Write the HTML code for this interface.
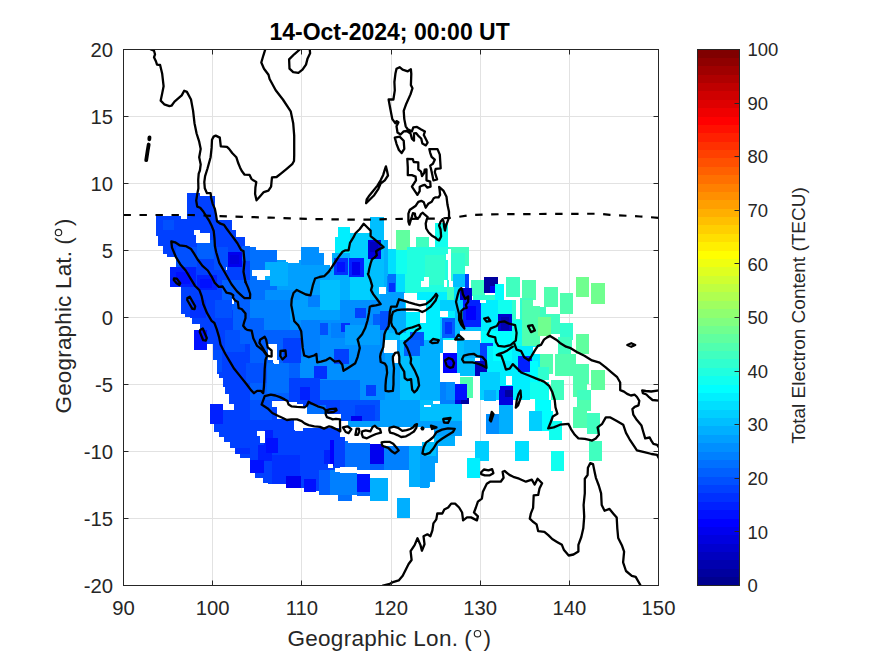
<!DOCTYPE html>
<html><head><meta charset="utf-8"><style>
html,body{margin:0;padding:0;background:#fff;}
svg{display:block;}
text{font-family:"Liberation Sans",sans-serif;fill:#262626;}
.tk{font-size:20.3px;}
.ct{font-size:18.5px;}
.ttl{font-size:23px;font-weight:bold;fill:#000;}
.lab{font-size:22.5px;}
.clab{font-size:19px;}
</style></head><body>
<svg width="875" height="656" viewBox="0 0 875 656" shape-rendering="auto">
<rect width="875" height="656" fill="#fff"/>
<path d="M212.5 49.5V585.5M301.5 49.5V585.5M391.5 49.5V585.5M480.5 49.5V585.5M569.5 49.5V585.5M123.5 518.5H658.5M123.5 451.5H658.5M123.5 384.5H658.5M123.5 317.5H658.5M123.5 250.5H658.5M123.5 183.5H658.5M123.5 116.5H658.5" stroke="#e2e2e2" stroke-width="1" fill="none"/><g shape-rendering="crispEdges"><rect x="187.3" y="192.9" width="13.0" height="26.1" fill="#0040ff"/><rect x="200.3" y="196.4" width="14.2" height="22.6" fill="#0040ff"/><rect x="156.1" y="216.3" width="24.4" height="19.8" fill="#0040ff"/><rect x="180.5" y="219.3" width="36.6" height="16.8" fill="#0040ff"/><rect x="187.3" y="215.5" width="29.8" height="4.5" fill="#0040ff"/><rect x="217.1" y="219.8" width="15.2" height="17.0" fill="#0040ff"/><rect x="232.3" y="229.9" width="3.9" height="6.9" fill="#0040ff"/><rect x="158.4" y="236.1" width="77.8" height="10.3" fill="#0040ff"/><rect x="236.2" y="236.7" width="8.9" height="9.7" fill="#0040ff"/><rect x="162.5" y="246.4" width="87.5" height="7.3" fill="#0040ff"/><rect x="166.7" y="253.7" width="83.3" height="3.1" fill="#0040ff"/><rect x="176.6" y="256.8" width="73.4" height="9.9" fill="#0040ff"/><rect x="169.7" y="266.7" width="80.3" height="20.2" fill="#0040ff"/><rect x="180.6" y="286.9" width="69.4" height="26.6" fill="#0040ff"/><rect x="185.2" y="313.5" width="64.8" height="3.1" fill="#0040ff"/><rect x="192.0" y="316.6" width="58.0" height="7.6" fill="#0040ff"/><rect x="200.4" y="324.2" width="49.6" height="6.1" fill="#0040ff"/><rect x="207.3" y="330.3" width="42.7" height="13.7" fill="#0040ff"/><rect x="212.6" y="344.0" width="37.4" height="16.0" fill="#0040ff"/><rect x="216.8" y="360.0" width="33.2" height="13.7" fill="#0040ff"/><rect x="219.1" y="373.7" width="30.9" height="3.8" fill="#0040ff"/><rect x="222.9" y="377.5" width="27.1" height="9.9" fill="#0040ff"/><rect x="225.2" y="387.4" width="24.8" height="6.9" fill="#0040ff"/><rect x="229.0" y="394.3" width="21.0" height="9.9" fill="#0040ff"/><rect x="233.5" y="404.2" width="16.5" height="6.1" fill="#0040ff"/><rect x="222.9" y="410.3" width="27.1" height="13.7" fill="#0040ff"/><rect x="213.7" y="424.0" width="36.3" height="7.6" fill="#0040ff"/><rect x="219.1" y="431.6" width="30.9" height="5.4" fill="#0040ff"/><rect x="224.4" y="437.0" width="25.6" height="5.3" fill="#0040ff"/><rect x="229.7" y="442.3" width="20.3" height="5.4" fill="#0040ff"/><rect x="235.1" y="447.7" width="14.9" height="6.1" fill="#0040ff"/><rect x="239.6" y="453.8" width="10.4" height="3.8" fill="#0040ff"/><rect x="176.0" y="247.0" width="20.6" height="20.0" fill="#0050ff"/><rect x="196.6" y="240.0" width="17.0" height="19.0" fill="#0060ff"/><rect x="213.6" y="247.0" width="14.4" height="23.0" fill="#0050ff"/><rect x="196.6" y="275.0" width="20.4" height="15.0" fill="#0020ff"/><rect x="200.0" y="279.0" width="12.0" height="9.0" fill="#0010ff"/><rect x="194.3" y="330.3" width="13.0" height="19.8" fill="#0010ff"/><rect x="209.9" y="404.2" width="13.0" height="19.8" fill="#0020ff"/><rect x="227.7" y="252.0" width="13.8" height="15.3" fill="#0000ef"/><rect x="230.0" y="255.0" width="9.0" height="9.0" fill="#0000df"/><rect x="169.7" y="266.7" width="26.0" height="20.2" fill="#0020ff"/><rect x="176.0" y="272.0" width="14.0" height="12.0" fill="#0010ff"/><rect x="241.5" y="246.4" width="8.5" height="14.6" fill="#0060ff"/><rect x="156.1" y="216.3" width="15.9" height="19.7" fill="#0040ff"/><rect x="163.0" y="220.0" width="11.0" height="10.0" fill="#0050ff"/><rect x="190.0" y="300.0" width="16.0" height="18.0" fill="#0030ff"/><rect x="215.0" y="300.0" width="17.0" height="18.0" fill="#0050ff"/><rect x="232.0" y="288.0" width="18.0" height="22.0" fill="#0060ff"/><rect x="212.6" y="350.0" width="9.4" height="10.0" fill="#0050ff"/><rect x="216.8" y="360.0" width="5.2" height="12.0" fill="#0050ff"/><rect x="225.0" y="330.0" width="20.0" height="22.0" fill="#0050ff"/><rect x="235.1" y="447.7" width="14.9" height="6.1" fill="#0030ff"/><rect x="222.0" y="280.0" width="28.0" height="20.0" fill="#0060ff"/><rect x="233.0" y="300.0" width="17.0" height="30.0" fill="#0060ff"/><rect x="231.8" y="296.0" width="2.0" height="7.6" fill="#fff"/><rect x="194.2" y="230.0" width="6.1" height="5.3" fill="#fff"/><rect x="195.7" y="233.0" width="13.8" height="10.0" fill="#fff"/><rect x="225.5" y="267.3" width="1.8" height="2.3" fill="#fff"/><rect x="250.0" y="246.7" width="6.1" height="53.3" fill="#0070ff"/><rect x="256.1" y="249.7" width="20.6" height="50.3" fill="#0070ff"/><rect x="276.7" y="260.4" width="9.1" height="39.6" fill="#009fff"/><rect x="285.8" y="263.4" width="15.3" height="36.6" fill="#009fff"/><rect x="299.3" y="260.1" width="1.8" height="3.3" fill="#009fff"/><rect x="301.1" y="246.7" width="18.3" height="53.3" fill="#008fff"/><rect x="319.4" y="252.8" width="4.5" height="47.2" fill="#008fff"/><rect x="323.9" y="270.3" width="8.4" height="29.7" fill="#009fff"/><rect x="332.3" y="252.8" width="17.9" height="47.2" fill="#00afff"/><rect x="334.8" y="236.8" width="2.9" height="16.0" fill="#00efff"/><rect x="337.7" y="226.9" width="12.5" height="25.9" fill="#00efff"/><rect x="300.0" y="265.0" width="30.0" height="35.0" fill="#009fff"/><rect x="330.0" y="272.0" width="20.0" height="28.0" fill="#00afff"/><rect x="334.0" y="258.0" width="13.6" height="16.7" fill="#0030ff"/><rect x="337.0" y="262.0" width="8.0" height="10.0" fill="#0010ff"/><rect x="265.0" y="249.7" width="11.7" height="20.6" fill="#0070ff"/><rect x="265.0" y="262.0" width="23.0" height="24.0" fill="#00afff"/><rect x="250.0" y="280.0" width="20.0" height="20.0" fill="#0070ff"/><rect x="250.0" y="300.0" width="135.0" height="100.0" fill="#008fff"/><rect x="265.0" y="290.0" width="35.0" height="40.0" fill="#008fff"/><rect x="250.0" y="300.0" width="40.0" height="30.0" fill="#0080ff"/><rect x="290.0" y="300.0" width="50.0" height="20.0" fill="#009fff"/><rect x="320.0" y="280.0" width="20.0" height="30.0" fill="#00bfff"/><rect x="308.0" y="295.0" width="12.0" height="12.0" fill="#0080ff"/><rect x="340.0" y="300.0" width="20.0" height="18.0" fill="#008fff"/><rect x="354.9" y="307.6" width="10.6" height="10.7" fill="#0040ff"/><rect x="316.0" y="322.7" width="12.4" height="12.3" fill="#0050ff"/><rect x="330.5" y="322.9" width="18.3" height="15.2" fill="#0080ff"/><rect x="340.8" y="322.7" width="9.6" height="9.3" fill="#0030ff"/><rect x="333.5" y="348.8" width="15.3" height="15.2" fill="#0040ff"/><rect x="313.7" y="365.5" width="13.7" height="13.8" fill="#0030ff"/><rect x="365.5" y="385.4" width="10.7" height="10.6" fill="#0040ff"/><rect x="373.2" y="313.7" width="12.2" height="12.2" fill="#0060ff"/><rect x="345.0" y="325.0" width="35.0" height="20.0" fill="#009fff"/><rect x="250.0" y="330.0" width="50.0" height="30.0" fill="#0060ff"/><rect x="250.0" y="360.0" width="50.0" height="40.0" fill="#0060ff"/><rect x="300.0" y="380.0" width="60.0" height="20.0" fill="#0070ff"/><rect x="240.0" y="318.0" width="24.0" height="26.0" fill="#0060ff"/><rect x="264.0" y="330.0" width="19.0" height="15.0" fill="#0060ff"/><rect x="283.0" y="338.0" width="18.0" height="25.0" fill="#0040ff"/><rect x="246.0" y="363.0" width="21.0" height="20.0" fill="#0050ff"/><rect x="267.0" y="363.0" width="22.0" height="30.0" fill="#0070ff"/><rect x="289.0" y="378.0" width="31.0" height="22.0" fill="#0040ff"/><rect x="300.0" y="387.0" width="10.0" height="13.0" fill="#0020ff"/><rect x="301.0" y="320.0" width="19.0" height="37.0" fill="#0080ff"/><rect x="250.0" y="400.0" width="90.0" height="57.6" fill="#0040ff"/><rect x="249.9" y="457.6" width="90.1" height="13.3" fill="#0040ff"/><rect x="254.5" y="470.9" width="85.5" height="6.8" fill="#0040ff"/><rect x="262.9" y="477.7" width="77.1" height="5.4" fill="#0040ff"/><rect x="268.2" y="483.1" width="71.8" height="0.7" fill="#0040ff"/><rect x="285.7" y="483.8" width="54.3" height="3.9" fill="#0040ff"/><rect x="300.2" y="487.7" width="39.8" height="0.7" fill="#0040ff"/><rect x="305.5" y="488.4" width="34.5" height="2.3" fill="#0040ff"/><rect x="319.3" y="490.7" width="20.7" height="3.8" fill="#0040ff"/><rect x="264.0" y="430.0" width="9.0" height="16.0" fill="#0020ff"/><rect x="258.0" y="445.0" width="14.0" height="16.0" fill="#0020ff"/><rect x="250.0" y="460.0" width="14.0" height="13.0" fill="#0010ff"/><rect x="272.0" y="455.0" width="28.0" height="28.8" fill="#0030ff"/><rect x="266.0" y="438.0" width="12.0" height="15.0" fill="#0010ff"/><rect x="285.7" y="476.0" width="15.3" height="11.7" fill="#0000ef"/><rect x="304.0" y="479.0" width="12.0" height="12.5" fill="#0010ff"/><rect x="324.0" y="450.0" width="10.0" height="14.0" fill="#0020ff"/><rect x="319.0" y="470.0" width="21.0" height="24.5" fill="#0060ff"/><rect x="307.3" y="404.5" width="18.5" height="9.8" fill="#0070ff"/><rect x="250.0" y="400.0" width="22.0" height="20.0" fill="#0050ff"/><rect x="350.2" y="233.0" width="20.1" height="67.0" fill="#00cfff"/><rect x="370.3" y="216.5" width="13.3" height="83.5" fill="#00bfff"/><rect x="383.6" y="240.0" width="4.4" height="60.0" fill="#00afff"/><rect x="388.0" y="249.3" width="7.7" height="50.7" fill="#00ffff"/><rect x="395.7" y="230.2" width="14.6" height="19.8" fill="#60ff9f"/><rect x="395.7" y="250.0" width="14.6" height="50.0" fill="#20ffdf"/><rect x="410.3" y="249.3" width="5.2" height="50.7" fill="#20ffdf"/><rect x="415.5" y="237.0" width="13.0" height="63.0" fill="#40ffbf"/><rect x="428.5" y="247.0" width="6.9" height="53.0" fill="#30ffcf"/><rect x="435.4" y="223.4" width="12.6" height="76.6" fill="#10ffef"/><rect x="368.3" y="240.2" width="12.2" height="19.0" fill="#0000df"/><rect x="370.0" y="242.0" width="8.0" height="10.0" fill="#0000bf"/><rect x="349.0" y="258.0" width="15.0" height="19.4" fill="#0020ff"/><rect x="352.0" y="262.0" width="8.0" height="13.0" fill="#0000ef"/><rect x="386.6" y="276.0" width="9.1" height="15.2" fill="#0080ff"/><rect x="398.8" y="296.6" width="7.6" height="9.9" fill="#0000ef"/><rect x="388.0" y="249.3" width="7.7" height="10.7" fill="#00cfff"/><rect x="385.0" y="300.0" width="75.0" height="40.0" fill="#00efff"/><rect x="385.0" y="300.0" width="15.0" height="40.0" fill="#00bfff"/><rect x="400.0" y="306.0" width="20.0" height="24.0" fill="#00dfff"/><rect x="420.0" y="300.0" width="20.0" height="20.0" fill="#10ffef"/><rect x="440.0" y="300.0" width="20.0" height="11.0" fill="#00cfff"/><rect x="385.4" y="371.6" width="12.2" height="19.9" fill="#0020ff"/><rect x="385.0" y="340.0" width="15.0" height="32.0" fill="#009fff"/><rect x="385.0" y="372.0" width="15.0" height="28.0" fill="#009fff"/><rect x="400.0" y="340.0" width="20.0" height="60.0" fill="#00bfff"/><rect x="420.0" y="340.0" width="20.0" height="60.0" fill="#00afff"/><rect x="441.5" y="318.3" width="13.7" height="19.8" fill="#0060ff"/><rect x="445.0" y="322.0" width="7.0" height="12.0" fill="#0030ff"/><rect x="443.0" y="353.4" width="13.8" height="19.8" fill="#0000ff"/><rect x="440.0" y="338.0" width="3.0" height="15.4" fill="#00afff"/><rect x="456.8" y="338.0" width="6.8" height="35.0" fill="#00afff"/><rect x="463.6" y="339.6" width="16.0" height="18.3" fill="#00afff"/><rect x="388.0" y="249.3" width="7.7" height="25.0" fill="#00dfff"/><rect x="388.0" y="274.3" width="7.7" height="17.7" fill="#0070ff"/><rect x="389.0" y="283.0" width="6.0" height="9.0" fill="#0030ff"/><rect x="395.7" y="250.0" width="11.7" height="24.3" fill="#10ffef"/><rect x="395.7" y="274.3" width="9.0" height="18.5" fill="#00dfff"/><rect x="407.4" y="246.9" width="41.2" height="45.1" fill="#20ffdf"/><rect x="425.0" y="255.0" width="20.0" height="30.0" fill="#30ffcf"/><rect x="448.6" y="246.9" width="6.3" height="27.4" fill="#40ffbf"/><rect x="417.0" y="292.0" width="31.6" height="19.3" fill="#00efff"/><rect x="380.0" y="292.0" width="24.7" height="19.3" fill="#009fff"/><rect x="380.0" y="311.3" width="24.7" height="18.7" fill="#0070ff"/><rect x="380.0" y="311.3" width="10.0" height="18.7" fill="#0050ff"/><rect x="404.7" y="311.3" width="35.7" height="18.7" fill="#00efff"/><rect x="389.0" y="311.0" width="17.0" height="22.0" fill="#00afff"/><rect x="410.0" y="332.0" width="14.0" height="14.0" fill="#0050ff"/><rect x="404.0" y="340.0" width="16.0" height="16.0" fill="#0060ff"/><rect x="406.0" y="300.0" width="20.4" height="11.7" fill="#fff"/><rect x="420.0" y="311.7" width="5.5" height="11.7" fill="#fff"/><rect x="340.0" y="400.0" width="121.9" height="35.7" fill="#009fff"/><rect x="340.0" y="400.0" width="40.0" height="21.0" fill="#0050ff"/><rect x="355.0" y="405.0" width="20.0" height="16.0" fill="#0040ff"/><rect x="351.0" y="415.5" width="11.0" height="8.2" fill="#0000ef"/><rect x="380.0" y="400.0" width="40.0" height="26.5" fill="#009fff"/><rect x="420.0" y="400.0" width="41.9" height="35.7" fill="#00bfff"/><rect x="455.0" y="390.0" width="13.8" height="13.7" fill="#0000df"/><rect x="461.0" y="395.0" width="7.8" height="8.7" fill="#00009f"/><rect x="440.0" y="390.0" width="15.0" height="13.7" fill="#0080ff"/><rect x="340.0" y="421.0" width="121.9" height="14.7" fill="#009fff"/><rect x="330.0" y="429.0" width="15.2" height="39.8" fill="#0040ff"/><rect x="330.0" y="440.0" width="4.0" height="26.0" fill="#0000ff"/><rect x="345.2" y="441.3" width="25.2" height="29.0" fill="#0070ff"/><rect x="370.4" y="443.6" width="13.7" height="20.6" fill="#0000ef"/><rect x="370.4" y="464.2" width="13.7" height="6.1" fill="#0060ff"/><rect x="384.1" y="442.9" width="25.2" height="27.4" fill="#0080ff"/><rect x="409.3" y="446.0" width="20.7" height="41.0" fill="#00afff"/><rect x="420.0" y="435.7" width="35.0" height="10.7" fill="#00afff"/><rect x="420.0" y="446.4" width="17.5" height="16.8" fill="#009fff"/><rect x="420.0" y="463.2" width="15.2" height="18.3" fill="#009fff"/><rect x="420.0" y="481.5" width="9.1" height="6.1" fill="#009fff"/><rect x="330.0" y="470.3" width="26.7" height="24.4" fill="#0080ff"/><rect x="337.6" y="494.5" width="14.5" height="6.3" fill="#0070ff"/><rect x="356.7" y="474.1" width="13.7" height="17.5" fill="#0010ff"/><rect x="356.7" y="491.6" width="13.7" height="4.6" fill="#0060ff"/><rect x="370.4" y="477.9" width="17.5" height="22.9" fill="#00afff"/><rect x="340.0" y="467.3" width="16.7" height="5.3" fill="#fff"/><rect x="356.7" y="470.3" width="13.7" height="3.8" fill="#fff"/><rect x="340.0" y="421.0" width="8.2" height="16.4" fill="#fff"/><rect x="348.2" y="426.5" width="33.0" height="16.4" fill="#fff"/><rect x="381.2" y="426.5" width="41.1" height="19.5" fill="#fff"/><rect x="422.3" y="434.0" width="13.7" height="22.0" fill="#00bfff"/><rect x="420.0" y="428.0" width="13.7" height="6.0" fill="#fff"/><rect x="272.3" y="401.0" width="15.5" height="6.1" fill="#fff"/><rect x="277.0" y="407.1" width="26.2" height="11.9" fill="#fff"/><rect x="287.8" y="401.5" width="9.2" height="5.6" fill="#fff"/><rect x="297.0" y="404.0" width="6.2" height="3.1" fill="#fff"/><rect x="303.2" y="407.0" width="4.1" height="7.3" fill="#fff"/><rect x="301.7" y="414.3" width="39.1" height="13.4" fill="#fff"/><rect x="294.0" y="419.0" width="9.2" height="11.3" fill="#fff"/><rect x="256.8" y="431.3" width="8.4" height="4.7" fill="#fff"/><rect x="259.5" y="436.0" width="5.7" height="7.4" fill="#fff"/><rect x="294.9" y="421.3" width="7.6" height="9.2" fill="#fff"/><rect x="328.4" y="464.0" width="4.6" height="3.8" fill="#fff"/><rect x="334.5" y="467.8" width="5.5" height="3.8" fill="#fff"/><rect x="251.5" y="270.3" width="18.3" height="6.1" fill="#fff"/><rect x="267.9" y="344.2" width="8.7" height="16.1" fill="#fff"/><rect x="274.3" y="360.3" width="4.6" height="3.2" fill="#fff"/><rect x="256.9" y="276.4" width="8.3" height="3.1" fill="#fff"/><rect x="273.2" y="360.0" width="6.1" height="3.0" fill="#fff"/><rect x="379.0" y="286.6" width="6.8" height="7.7" fill="#fff"/><rect x="424.0" y="277.0" width="5.4" height="9.6" fill="#fff"/><rect x="421.2" y="281.0" width="8.2" height="5.6" fill="#fff"/><rect x="404.1" y="292.7" width="13.0" height="7.7" fill="#fff"/><rect x="383.8" y="340.4" width="13.0" height="13.0" fill="#fff"/><rect x="393.8" y="353.4" width="5.2" height="9.1" fill="#fff"/><rect x="420.0" y="428.0" width="13.7" height="13.5" fill="#fff"/><rect x="459.8" y="330.5" width="18.3" height="9.1" fill="#fff"/><rect x="433.0" y="400.7" width="6.8" height="3.0" fill="#fff"/><rect x="423.8" y="404.5" width="6.9" height="2.3" fill="#fff"/><rect x="454.9" y="247.0" width="13.7" height="19.1" fill="#40ffbf"/><rect x="451.1" y="253.1" width="13.7" height="27.4" fill="#30ffcf"/><rect x="453.4" y="273.7" width="12.2" height="12.9" fill="#00bfff"/><rect x="470.9" y="279.8" width="13.7" height="16.0" fill="#40ffbf"/><rect x="473.0" y="295.0" width="30.0" height="5.0" fill="#30ffcf"/><rect x="460.2" y="288.0" width="12.2" height="12.0" fill="#0000cf"/><rect x="483.9" y="276.7" width="13.7" height="16.0" fill="#00009f"/><rect x="490.0" y="286.0" width="7.6" height="6.7" fill="#0000ef"/><rect x="495.3" y="283.6" width="8.4" height="16.8" fill="#00ffff"/><rect x="506.0" y="276.7" width="13.7" height="19.9" fill="#40ffbf"/><rect x="522.0" y="279.8" width="13.7" height="19.8" fill="#50ffaf"/><rect x="519.7" y="298.0" width="13.7" height="2.0" fill="#40ffbf"/><rect x="544.3" y="286.8" width="13.7" height="20.2" fill="#50ffaf"/><rect x="559.9" y="293.2" width="13.3" height="20.5" fill="#50ffaf"/><rect x="575.6" y="276.8" width="13.4" height="19.8" fill="#70ff8f"/><rect x="591.2" y="283.4" width="13.4" height="20.1" fill="#70ff8f"/><rect x="448.0" y="249.0" width="3.1" height="31.0" fill="#fff"/><rect x="446.0" y="253.7" width="2.7" height="6.3" fill="#fff"/><rect x="444.0" y="280.0" width="3.0" height="6.7" fill="#fff"/><rect x="465.0" y="274.0" width="3.6" height="14.0" fill="#0040ff"/><rect x="447.0" y="286.7" width="7.0" height="13.3" fill="#40ffbf"/><rect x="454.0" y="286.6" width="6.2" height="13.4" fill="#00dfff"/><rect x="440.0" y="300.0" width="19.8" height="10.7" fill="#00cfff"/><rect x="440.0" y="310.7" width="1.5" height="27.4" fill="#00cfff"/><rect x="441.5" y="318.3" width="13.7" height="19.8" fill="#0060ff"/><rect x="445.0" y="322.0" width="7.0" height="12.0" fill="#0030ff"/><rect x="455.2" y="310.7" width="7.7" height="27.4" fill="#00bfff"/><rect x="459.8" y="300.0" width="3.1" height="18.0" fill="#00cfff"/><rect x="462.9" y="300.0" width="18.3" height="27.4" fill="#0020ff"/><rect x="466.0" y="306.0" width="10.0" height="14.0" fill="#0000ff"/><rect x="481.2" y="300.0" width="16.7" height="30.5" fill="#00efff"/><rect x="497.9" y="300.0" width="13.7" height="13.7" fill="#10ffef"/><rect x="497.9" y="313.7" width="13.7" height="19.8" fill="#0000cf"/><rect x="501.0" y="317.0" width="8.0" height="13.0" fill="#0000af"/><rect x="511.6" y="300.0" width="10.7" height="20.0" fill="#30ffcf"/><rect x="522.3" y="300.0" width="17.7" height="47.0" fill="#50ffaf"/><rect x="511.6" y="320.0" width="10.7" height="27.0" fill="#10ffef"/><rect x="462.9" y="327.4" width="18.3" height="3.1" fill="#00bfff"/><rect x="481.2" y="330.5" width="30.4" height="15.2" fill="#00ffff"/><rect x="440.0" y="338.1" width="3.0" height="15.3" fill="#00afff"/><rect x="456.8" y="338.1" width="6.8" height="35.1" fill="#00bfff"/><rect x="463.6" y="339.6" width="16.0" height="18.3" fill="#00afff"/><rect x="479.6" y="343.4" width="13.8" height="17.6" fill="#0040ff"/><rect x="456.8" y="357.9" width="18.2" height="18.3" fill="#00bfff"/><rect x="487.3" y="345.7" width="52.7" height="54.3" fill="#00efff"/><rect x="493.4" y="345.7" width="18.2" height="15.3" fill="#00ffff"/><rect x="517.7" y="356.4" width="13.8" height="15.2" fill="#0020ff"/><rect x="443.0" y="353.4" width="13.8" height="19.8" fill="#0000ff"/><rect x="475.0" y="361.0" width="12.3" height="15.2" fill="#0000bf"/><rect x="440.0" y="382.3" width="6.0" height="17.7" fill="#0080ff"/><rect x="446.0" y="382.3" width="9.2" height="17.7" fill="#008fff"/><rect x="459.8" y="377.0" width="13.0" height="20.6" fill="#50ffaf"/><rect x="455.2" y="383.8" width="12.2" height="16.2" fill="#0010ff"/><rect x="480.4" y="372.0" width="19.1" height="28.0" fill="#00cfff"/><rect x="499.5" y="386.1" width="13.7" height="13.9" fill="#0000df"/><rect x="513.2" y="376.0" width="26.8" height="24.0" fill="#00efff"/><rect x="505.5" y="376.2" width="6.1" height="9.2" fill="#fff"/><rect x="472.8" y="376.2" width="7.6" height="23.8" fill="#fff"/><rect x="446.0" y="373.2" width="13.8" height="9.1" fill="#fff"/><rect x="459.8" y="330.5" width="18.3" height="9.1" fill="#fff"/><rect x="440.0" y="310.7" width="7.6" height="6.1" fill="#fff"/><rect x="479.6" y="300.0" width="6.1" height="3.0" fill="#fff"/><rect x="533.0" y="300.0" width="7.0" height="6.0" fill="#fff"/><rect x="516.0" y="297.0" width="4.0" height="22.0" fill="#fff"/><rect x="533.0" y="347.0" width="7.0" height="7.0" fill="#fff"/><rect x="540.0" y="307.0" width="6.1" height="10.3" fill="#40ffbf"/><rect x="546.1" y="313.7" width="14.0" height="20.1" fill="#40ffbf"/><rect x="538.4" y="317.3" width="12.6" height="18.3" fill="#70ff8f"/><rect x="559.9" y="323.4" width="13.3" height="16.6" fill="#30ffcf"/><rect x="558.3" y="336.8" width="13.3" height="11.5" fill="#40ffbf"/><rect x="575.6" y="333.8" width="13.1" height="19.8" fill="#60ff9f"/><rect x="539.9" y="354.4" width="13.0" height="19.8" fill="#50ffaf"/><rect x="555.2" y="354.4" width="20.5" height="21.3" fill="#50ffaf"/><rect x="558.2" y="345.2" width="13.0" height="9.2" fill="#40ffbf"/><rect x="530.0" y="360.5" width="8.4" height="21.3" fill="#00ffff"/><rect x="538.4" y="367.3" width="10.6" height="13.0" fill="#30ffcf"/><rect x="572.7" y="364.3" width="16.0" height="19.8" fill="#50ffaf"/><rect x="591.0" y="370.4" width="13.7" height="19.8" fill="#60ff9f"/><rect x="573.4" y="377.3" width="13.8" height="19.8" fill="#50ffaf"/><rect x="551.3" y="380.3" width="13.0" height="19.8" fill="#40ffbf"/><rect x="577.3" y="390.2" width="13.7" height="19.8" fill="#40ffbf"/><rect x="573.4" y="407.0" width="13.8" height="20.6" fill="#50ffaf"/><rect x="587.2" y="413.1" width="12.9" height="16.9" fill="#40ffbf"/><rect x="530.0" y="381.8" width="19.3" height="30.0" fill="#10ffef"/><rect x="530.0" y="412.3" width="9.0" height="17.7" fill="#00cfff"/><rect x="530.0" y="398.6" width="5.3" height="12.2" fill="#fff"/><rect x="484.0" y="390.0" width="12.2" height="10.7" fill="#00afff"/><rect x="486.3" y="414.4" width="13.7" height="19.8" fill="#008fff"/><rect x="499.3" y="405.2" width="13.7" height="29.0" fill="#00afff"/><rect x="499.3" y="390.0" width="13.7" height="15.2" fill="#0000df"/><rect x="505.0" y="390.0" width="8.0" height="7.0" fill="#00009f"/><rect x="474.9" y="441.1" width="13.7" height="19.8" fill="#00cfff"/><rect x="466.5" y="457.8" width="13.7" height="19.9" fill="#00efff"/><rect x="515.3" y="441.2" width="13.7" height="19.8" fill="#00dfff"/><rect x="529.0" y="410.7" width="13.0" height="19.8" fill="#00cfff"/><rect x="536.0" y="400.0" width="15.2" height="10.7" fill="#00ffff"/><rect x="542.0" y="410.7" width="10.7" height="19.8" fill="#00ffff"/><rect x="548.9" y="421.3" width="12.9" height="19.1" fill="#10ffef"/><rect x="551.2" y="451.1" width="12.9" height="19.8" fill="#10ffef"/><rect x="573.3" y="406.9" width="13.7" height="20.5" fill="#50ffaf"/><rect x="577.8" y="400.0" width="13.0" height="10.7" fill="#50ffaf"/><rect x="587.0" y="414.5" width="13.0" height="19.8" fill="#40ffbf"/><rect x="589.3" y="441.2" width="12.9" height="19.8" fill="#40ffbf"/><rect x="397.1" y="497.7" width="12.9" height="19.9" fill="#00afff"/></g><defs><clipPath id="ax"><rect x="123.5" y="49.5" width="535" height="536"/></clipPath></defs><g clip-path="url(#ax)" fill="none" stroke="#000" stroke-width="2.3" stroke-linejoin="round" stroke-linecap="round"><path d="M150.5,49.1 154.0,50.8 155.0,54.3 154.0,57.3 156.0,61.5 157.0,64.6 160.1,65.0 162.2,73.8 163.6,86.2 162.2,93.4 160.7,100.6 164.2,104.3 169.4,106.1 171.5,105.7 174.5,101.6 181.7,95.4 184.2,90.7 186.9,91.9 191.0,99.5 193.1,110.9 194.5,123.2 196.6,133.5 199.2,141.7 200.7,148.9 199.2,157.2 200.7,164.4 199.9,170.5 198.7,173.7 198.2,179.8 198.4,188.3 197.2,194.4 196.2,200.5 197.2,206.6 200.2,207.8 203.3,211.5 206.3,216.3 209.4,221.2 211.8,226.1 213.7,231.0 214.5,238.3 214.9,246.0 216.2,252.2 219.3,262.9 225.4,273.5 231.5,284.2 237.0,291.4 242.4,296.4 244.5,298.2 250.0,298.2 250.2,294.0 248.0,287.6 245.5,282.0"/><path d="M245.5,282.0 243.5,271.7 244.5,261.4 243.5,251.1 241.1,250.0 237.4,243.2 233.8,238.3 230.1,233.4 226.5,228.5 224.0,224.9 220.4,223.7 217.0,221.2 216.1,215.1 214.9,209.0 212.8,204.1 211.2,198.0 210.6,193.2 207.0,193.2 204.8,188.3 204.3,182.2 205.1,176.1 207.5,168.5 210.6,157.2 211.6,147.9 212.0,139.7 213.6,136.6 215.7,135.6 219.8,137.6 220.4,142.8 220.8,146.3 227.0,146.9 229.1,148.9 232.2,153.0 236.3,157.2 238.3,163.3 240.0,167.4 241.8,171.0 244.6,174.7 249.6,174.9 251.4,178.8 253.7,180.6 256.3,182.0 255.4,187.5 255.1,193.9 256.5,200.3 259.7,196.7 263.8,192.1 268.4,190.7 271.1,186.6 271.6,181.1 272.0,177.4 276.6,177.0 281.2,173.3 286.7,168.8 292.2,164.2 294.0,161.0 294.2,155.5 294.2,150.0 294.2,135.6 293.2,123.2 290.7,111.3 282.9,99.5 275.7,90.3 269.6,79.0 268.5,74.8 264.0,68.7 261.3,62.5 263.4,55.3 265.4,49.0"/><path d="M300.4,49.0 294.2,54.3 289.1,59.4 289.5,68.7 293.2,72.2 298.4,72.8 302.5,69.7 306.0,64.6 307.6,58.4 310.1,53.2 309.7,49.0"/><path d="M149.5,137.3 149.3,139.3" stroke-width="3.8"/><path d="M148.7,144.5 147.6,151.0 146.2,160.2" stroke-width="3.8"/><path d="M396.5,68.7 399.6,67.2 402.6,69.7 407.8,71.3 410.9,69.3 411.3,73.8 410.9,85.1 412.5,88.2 410.5,94.4 406.3,103.7 403.7,110.9 404.3,119.1 405.7,126.3 407.8,129.4 411.9,131.4 413.3,127.3 417.0,126.9 421.2,129.4 424.9,131.4 423.8,135.0 427.6,142.6 425.8,145.4 422.4,143.6 421.2,138.5 418.1,135.6 416.0,133.1 414.0,133.5 414.0,140.7 411.9,138.6 410.5,133.5 406.8,131.0 403.7,131.4 400.6,134.5 397.5,132.5 396.5,126.3 398.5,122.2 396.5,121.1 395.4,123.2 392.3,119.1 390.3,108.8 388.6,99.5 393.4,99.5 394.8,90.3 394.4,82.0 395.4,73.8 Z"/><path d="M394.8,137.6 399.6,136.6 403.7,140.7 404.3,148.9 401.6,153.0 398.9,150.0 396.5,143.8 Z"/><path d="M407.3,158.8 412.8,159.2 413.7,162.0 418.3,162.4 418.3,169.3 421.0,171.6 422.0,176.1 424.2,172.9 424.7,169.7 426.5,169.3 426.5,180.3 430.2,181.6 430.6,186.7 427.4,187.6 424.7,184.8 422.0,185.7 419.7,186.7 419.7,191.2 417.4,194.9 411.9,186.7 416.0,180.3 415.6,176.6 411.9,175.2 407.8,175.2 407.8,167.4 Z"/><path d="M429.3,149.1 437.5,149.1 439.8,154.6 440.7,168.4 435.7,168.8 434.8,172.0 437.1,179.3 433.4,180.3 432.5,175.7 431.6,171.6 430.2,165.6 432.9,163.8 434.8,159.7 431.6,156.9 430.2,152.8 Z"/><path d="M439.1,186.9 443.6,190.9 446.5,196.8 447.5,204.8 449.0,211.7 449.0,217.6 447.5,221.6 446.0,225.5 445.0,230.5 444.1,226.5 443.6,221.6 442.6,219.1 440.6,221.6 439.1,225.5 440.6,229.5 441.1,236.4 439.1,240.4 437.1,239.4 435.1,237.4 431.7,235.4 428.7,232.5 426.2,228.5 425.7,223.6 426.7,219.6 427.7,217.1 424.8,214.7 422.8,212.7 420.8,214.2 419.3,217.1 417.3,218.6 415.3,216.6 414.9,213.7 412.9,213.2 411.9,216.6 410.9,219.6 409.4,224.6 408.4,221.6 408.4,213.7 409.9,209.7 412.9,207.7 415.8,205.7 418.3,201.8 421.3,200.8 423.8,202.3 425.7,207.7 428.2,203.8 431.7,201.8 433.7,198.3 435.6,197.3 438.6,197.3 440.1,194.9 439.6,189.9 Z"/><path d="M385.9,166.4 387.0,170.7 388.0,175.5 384.8,180.3 380.6,183.5 378.4,188.8 374.2,195.2 369.9,199.5 366.1,203.2 366.7,199.5 368.8,196.3 373.1,191.0 377.4,185.6 380.6,180.3 383.2,174.9 384.8,169.6 Z"/><path d="M171.3,241.5 175.1,242.3 179.6,245.3 185.7,246.1 191.1,249.1 194.1,253.7 197.9,259.8 202.5,265.9 207.8,270.5 211.6,276.6 214.7,282.7 218.8,286.9 222.6,286.5 226.4,292.6 231.0,293.7 233.3,295.2 232.9,297.5 235.2,300.6 237.9,302.1 238.6,308.2 241.7,309.0 245.5,313.5 245.5,318.1 244.0,322.7 243.2,325.7 245.5,328.8 247.2,329.9 251.7,330.7 253.3,338.3 257.1,345.9 260.1,348.2 263.2,350.5 267.0,355.8 265.5,359.6 264.7,368.8 264.4,377.9 263.9,387.1 263.2,393.2 260.9,390.9 257.1,390.9 254.0,393.2 251.0,390.1 246.4,384.0 240.3,376.4 234.2,368.8 229.6,361.2 225.1,353.5 220.5,344.4 219.0,336.8 216.7,329.1 214.4,323.0 211.6,320.8 207.1,313.2 203.3,304.0 201.7,296.4 199.5,290.3 194.9,285.7 190.3,278.1 185.7,270.5 180.4,264.4 175.8,256.8 172.0,247.6 Z"/><path d="M174.0,278.4 176.8,278.6 180.2,283.2 179.4,285.0 176.6,283.2 173.8,280.0 Z"/><path d="M187.4,298.0 189.8,296.8 195.2,306.2 194.6,309.0 192.4,308.8 187.2,300.0 Z"/><path d="M200.2,330.0 202.8,328.5 206.8,338.0 205.8,340.6 203.2,340.2 199.8,332.0 Z"/><path d="M260.1,339.8 264.7,336.8 266.2,339.8 267.7,347.4 271.6,350.5 271.6,356.6 267.7,355.8 265.5,352.8 262.4,347.4 259.4,342.9 Z"/><path d="M280.5,351.0 285.5,350.5 286.0,356.0 282.5,359.5 280.3,356.0 Z"/><path d="M264.7,396.2 270.8,394.7 275.4,395.5 280.0,397.1 284.6,399.4 287.4,401.1 288.6,404.6 291.4,406.3 297.1,406.9 304.6,407.4 306.9,405.7 308.6,401.7 311.4,403.4 317.7,406.3 323.4,408.0 325.7,410.3 325.7,414.3 326.9,417.1 330.3,418.3 332.6,419.4 336.0,418.9 340.0,419.4 340.0,424.6 340.3,431.4 336.0,429.1 331.4,426.9 329.1,426.3 324.0,428.6 320.0,426.9 314.3,426.3 308.6,425.1 304.6,423.4 301.7,421.1 297.1,419.4 291.4,419.4 286.9,420.0 282.3,417.7 278.4,416.0 272.3,413.0 267.7,408.4 261.6,404.6 Z"/><path d="M326.3,410.3 330.3,409.1 336.0,408.6 336.6,410.3 333.7,412.0 328.0,412.6 Z"/><path d="M342.9,427.4 347.4,426.3 351.4,429.1 348.6,433.1 345.7,432.0 Z"/><path d="M356.6,428.6 358.9,428.6 359.4,431.4 357.7,434.9 355.4,434.9 Z"/><path d="M362.3,431.4 365.7,430.3 370.3,431.4 372.6,426.9 374.9,425.7 377.1,428.0 380.0,429.1 381.0,432.6 376.0,434.0 371.4,436.0 366.9,438.3 362.9,437.1 361.7,433.7 Z"/><path d="M389.5,427.8 393.8,426.6 398.0,427.8 402.3,430.9 406.6,430.2 410.2,429.0 413.3,427.2 415.1,424.8 417.0,424.1 416.3,427.8 413.9,431.5 410.2,433.9 406.0,436.3 401.1,437.0 397.4,435.1 393.2,433.3 390.1,432.7 389.3,430.2 Z"/><path d="M422.4,428.4 422.5,428.5" stroke-width="4"/><path d="M431.0,425.6 436.5,427.3 432.0,429.0 Z"/><path d="M443.2,419.0 450.5,418.0 448.0,422.9 444.0,422.5 Z"/><path d="M381.6,442.4 384.6,441.8 389.5,441.8 393.2,443.7 396.2,447.3 398.7,450.4 395.0,453.4 392.0,451.6 388.3,447.9 384.6,446.7 382.2,445.5 Z"/><path d="M422.4,453.4 423.7,447.3 426.1,442.4 429.8,440.0 433.4,437.0 436.5,432.1 442.0,429.6 448.0,428.4 454.8,428.8 452.9,432.1 448.0,435.1 442.0,438.8 437.1,442.4 433.4,448.5 429.8,452.8 424.9,454.6 Z"/><path d="M363.7,223.7 359.6,229.2 355.5,233.3 353.4,237.4 350.0,242.9 348.6,250.3 345.5,250.3 342.5,251.8 337.9,257.9 334.9,262.5 331.8,267.1 328.8,271.6 324.2,276.2 319.6,277.0 315.1,278.5 312.8,285.4 310.5,295.3 305.9,294.5 301.3,292.2 296.8,289.9 293.5,293.0 291.7,299.1 291.3,305.2 292.8,312.9 294.3,321.3 298.1,325.1 301.2,331.2 301.9,338.8 302.7,347.9 304.2,355.5 308.8,357.1 314.1,355.5 316.4,354.0 317.2,362.4 321.0,361.6 326.3,360.1 330.1,357.8 334.7,361.6 339.3,360.9 342.3,364.7 343.5,370.8 348.4,367.7 355.3,363.2 357.6,357.1 359.8,347.9 358.3,341.8 357.6,339.5 362.1,334.2 365.2,328.1 367.5,320.5 369.0,312.9 369.8,306.8 371.6,306.0 375.9,305.4 380.7,304.1 377.1,299.3 373.4,294.4 371.0,290.1 372.2,285.9 370.4,279.8 367.9,273.7 368.5,273.1 369.2,269.0 370.6,263.5 372.0,259.4 374.7,257.4 376.8,255.3 376.1,251.2 379.5,249.1 383.6,247.1 378.8,242.9 374.0,238.8 370.6,236.1 370.6,230.6 367.2,227.2 Z"/><path d="M399.0,299.3 405.1,301.1 408.8,302.3 414.9,304.1 419.8,305.4 425.9,304.1 430.7,300.5 434.4,296.2 436.2,293.8 437.4,295.6 435.6,300.5 430.7,306.6 425.9,310.2 422.2,312.1 418.5,310.2 413.7,309.6 407.6,309.3 401.5,309.6 396.6,310.2 392.9,312.1 391.7,316.3 391.1,322.4 392.3,326.1 395.4,329.8 396.6,333.4 399.0,334.0 402.7,331.0 407.6,328.5 412.4,327.3 417.3,325.5 419.1,324.9 420.4,327.9 416.1,330.4 414.8,332.1 411.6,336.4 407.9,339.6 404.2,342.8 407.4,348.1 409.5,353.5 411.1,358.8 410.6,363.1 414.8,370.6 418.0,378.0 419.1,385.5 417.0,389.8 414.3,392.4 412.2,389.8 411.6,384.4 411.1,379.1 407.4,380.2 404.7,378.0 404.2,371.6 401.5,367.4 399.3,363.1 399.3,356.7 398.3,352.4 395.1,352.9 392.9,356.7 392.9,359.9 394.0,368.4 393.5,377.0 393.5,384.4 392.9,390.8 388.7,391.4 385.5,390.8 385.5,385.5 386.0,379.1 387.1,372.7 386.5,366.3 384.9,363.6 380.7,362.0 380.1,356.7 380.7,353.5 383.3,347.1 383.9,340.7 384.4,334.3 385.6,331.0 388.7,326.1 389.3,318.8 389.9,311.5 391.1,306.6 396.6,306.6 Z"/><path d="M430.2,341.8 433.0,339.0 438.8,340.2 437.5,342.6 432.5,343.2 Z"/><path d="M458.4,334.6 463.6,339.3 455.2,339.5 Z"/><path d="M445.0,360.5 448.7,358.0 452.3,359.3 454.1,362.9 452.9,367.2 449.9,367.8 446.8,366.0 Z"/><path d="M462.1,359.3 463.9,355.6 468.8,354.4 473.7,353.8 477.3,356.2 482.2,356.8 485.9,361.1 486.5,367.8 482.2,365.4 477.3,363.5 472.4,362.3 467.6,362.3 463.9,362.3 Z"/><path d="M461.3,288.1 459.1,290.4 457.5,295.7 456.0,301.8 457.5,307.9 459.1,314.0 459.1,320.1 461.3,324.7 464.4,328.5 462.9,324.7 461.3,318.6 461.3,311.0 463.6,308.7 466.7,307.9 465.9,304.9 468.2,301.8 468.2,296.5 465.2,298.8 462.9,294.2 462.1,289.6 Z"/><path d="M484.2,318.5 488.0,317.5 490.3,321.0 486.5,321.5 Z"/><path d="M487.6,334.4 490.7,328.3 496.8,326.0 499.1,322.2 504.4,321.4 509.0,323.7 515.1,325.2 516.6,332.9 515.8,340.5 510.5,345.1 504.4,346.6 498.3,345.8 496.0,342.0 495.2,337.4 489.1,335.9 Z"/><path d="M514.3,343.5 516.6,349.6 521.2,351.2 524.2,357.3 528.8,360.3 531.8,355.7 534.9,350.4 537.9,345.8 541.0,344.8 544.0,339.7 547.1,337.4 550.1,335.9 556.2,339.7 560.0,342.9 566.1,346.7 570.7,348.2 576.8,352.0 584.4,355.8 592.0,360.4 599.6,362.7 605.7,367.3 611.8,372.6 617.2,377.2 620.2,382.5 620.2,390.1 624.0,391.6 627.1,393.9 630.9,395.5 634.7,394.7 637.0,397.0 639.3,400.8 638.5,405.4 634.7,406.9 632.4,409.1 633.3,414.6 636.9,420.1 641.5,425.6 643.3,432.0 645.2,438.4 649.7,437.5 651.6,441.2 653.4,443.9 657.1,444.8 659.0,447.6"/><path d="M512.8,346.6 507.4,350.4 502.9,352.7 498.3,354.2 496.8,355.0 501.3,355.7 503.6,361.8 505.9,369.5 509.7,368.7 512.8,364.1 516.6,367.9 521.2,372.5 528.8,375.5 536.4,378.6 544.0,381.6 549.4,386.2 552.4,392.3 554.7,399.9 555.5,407.3 557.4,413.7 552.8,416.5 550.1,423.8 548.2,428.4 553.7,427.4 560.1,424.7 568.4,423.8 571.1,429.3 574.8,434.8 578.4,438.4 584.8,438.8 589.4,439.9 592.1,440.6 595.8,438.4 598.9,434.8 598.2,430.2 597.6,427.4 602.2,423.8 605.8,417.4 610.4,417.4 616.8,421.0 623.2,424.7 626.0,432.9 629.6,439.3 635.1,447.6 636.9,450.3 644.3,452.1 651.6,454.0 657.1,454.9 659.0,458.5"/><path d="M528.0,326.0 532.5,325.2 534.9,330.5 531.0,332.1 Z"/><path d="M627.3,345.0 631.3,343.2 635.2,345.0 631.3,346.8 Z"/><path d="M659.0,390.4 651.2,391.5 645.7,391.0 642.2,390.4 642.9,393.1 646.4,394.5 649.1,397.2 652.5,400.0 659.0,400.6"/><path d="M520.5,390.5 521.0,397.0 518.0,405.5 515.8,407.6 516.8,400.0 518.5,394.0 Z"/><path d="M491.8,411.9 493.5,414.0 491.0,421.5 489.8,420.0 Z"/><path d="M481.2,472.3 483.9,469.5 488.5,470.4 492.1,469.1 493.4,473.2 489.4,475.4 484.8,475.4 481.2,474.1 Z"/><path d="M382.9,585.5 389.8,583.8 393.8,581.8 398.7,580.4 402.7,575.8 405.6,569.9 408.6,564.0 411.6,560.0 410.6,551.1 414.6,545.1 417.5,538.2 420.5,545.1 421.9,550.7 424.5,544.2 423.5,536.2 427.4,534.3 430.4,536.2 432.4,530.3 433.4,523.4 436.3,519.4 437.3,513.5 442.3,513.5 444.3,509.5 448.2,507.5 451.2,503.6 455.1,503.6 459.1,507.5 462.1,512.5 463.1,520.4 467.0,517.4 471.0,517.4 476.9,520.4 477.9,516.4 474.0,512.5 475.9,507.5 477.9,501.6 481.9,498.6 482.9,491.7 486.8,483.8 490.0,481.7 500.7,481.7 503.6,477.8 502.6,471.9 504.6,471.0 509.4,474.9 513.3,476.8 519.1,478.7 525.9,481.7 531.8,479.7 534.7,484.6 537.6,478.7 542.1,483.2 539.5,488.5 538.2,494.9 533.7,495.3 533.1,507.9 530.8,513.7 529.8,518.6 532.7,521.5 536.6,524.4 538.2,531.2 544.4,531.8 548.3,535.1 552.2,539.0 557.0,541.9 561.9,544.8 563.8,549.7 568.7,555.5 573.5,554.5 578.4,551.6 578.4,544.8 581.3,537.0 583.3,528.3 584.2,516.6 583.6,505.0 584.8,493.3 584.8,478.7 587.6,475.0 587.9,467.7 590.3,463.1 593.0,464.0 594.9,473.2 595.9,477.8 598.8,485.5 601.1,493.3 601.7,505.0 604.6,510.8 609.5,508.9 613.4,513.7 616.7,517.6 617.3,528.3 618.2,538.0 622.1,545.8 624.1,551.6 623.1,562.3 626.0,571.0 631.8,575.9 635.7,576.9 640.6,585.5"/></g><path d="M123.5,215 190,215 230,216.5 270,217.6 310,219 360,219.8 395,219 440,218.5 455,217.5 470,215 500,214.2 600,213.7 610,214.8 640,216.5 658.5,217.8" fill="none" stroke="#000" stroke-width="2.2" stroke-dasharray="7.4 8.6"/><path d="M212.5 585.5v-5M212.5 49.5v5M301.5 585.5v-5M301.5 49.5v5M391.5 585.5v-5M391.5 49.5v5M480.5 585.5v-5M480.5 49.5v5M569.5 585.5v-5M569.5 49.5v5M123.5 518.5h5M658.5 518.5h-5M123.5 451.5h5M658.5 451.5h-5M123.5 384.5h5M658.5 384.5h-5M123.5 317.5h5M658.5 317.5h-5M123.5 250.5h5M658.5 250.5h-5M123.5 183.5h5M658.5 183.5h-5M123.5 116.5h5M658.5 116.5h-5" stroke="#262626" stroke-width="1" fill="none"/><rect x="123.5" y="49.5" width="535.0" height="536.0" fill="none" stroke="#262626" stroke-width="1"/><text x="123.5" y="615" text-anchor="middle" class="tk">90</text><text x="212.7" y="615" text-anchor="middle" class="tk">100</text><text x="301.8" y="615" text-anchor="middle" class="tk">110</text><text x="391.0" y="615" text-anchor="middle" class="tk">120</text><text x="480.2" y="615" text-anchor="middle" class="tk">130</text><text x="569.3" y="615" text-anchor="middle" class="tk">140</text><text x="658.5" y="615" text-anchor="middle" class="tk">150</text><text x="113" y="593.2" text-anchor="end" class="tk">-20</text><text x="113" y="526.2" text-anchor="end" class="tk">-15</text><text x="113" y="459.2" text-anchor="end" class="tk">-10</text><text x="113" y="392.2" text-anchor="end" class="tk">-5</text><text x="113" y="325.2" text-anchor="end" class="tk">0</text><text x="113" y="258.2" text-anchor="end" class="tk">5</text><text x="113" y="191.2" text-anchor="end" class="tk">10</text><text x="113" y="124.2" text-anchor="end" class="tk">15</text><text x="113" y="57.2" text-anchor="end" class="tk">20</text><g shape-rendering="crispEdges"><rect x="697.5" y="577.125" width="42.0" height="8.425" fill="#00008f"/><rect x="697.5" y="568.750" width="42.0" height="8.425" fill="#00009f"/><rect x="697.5" y="560.375" width="42.0" height="8.425" fill="#0000af"/><rect x="697.5" y="552.000" width="42.0" height="8.425" fill="#0000bf"/><rect x="697.5" y="543.625" width="42.0" height="8.425" fill="#0000cf"/><rect x="697.5" y="535.250" width="42.0" height="8.425" fill="#0000df"/><rect x="697.5" y="526.875" width="42.0" height="8.425" fill="#0000ef"/><rect x="697.5" y="518.500" width="42.0" height="8.425" fill="#0000ff"/><rect x="697.5" y="510.125" width="42.0" height="8.425" fill="#0010ff"/><rect x="697.5" y="501.750" width="42.0" height="8.425" fill="#0020ff"/><rect x="697.5" y="493.375" width="42.0" height="8.425" fill="#0030ff"/><rect x="697.5" y="485.000" width="42.0" height="8.425" fill="#0040ff"/><rect x="697.5" y="476.625" width="42.0" height="8.425" fill="#0050ff"/><rect x="697.5" y="468.250" width="42.0" height="8.425" fill="#0060ff"/><rect x="697.5" y="459.875" width="42.0" height="8.425" fill="#0070ff"/><rect x="697.5" y="451.500" width="42.0" height="8.425" fill="#0080ff"/><rect x="697.5" y="443.125" width="42.0" height="8.425" fill="#008fff"/><rect x="697.5" y="434.750" width="42.0" height="8.425" fill="#009fff"/><rect x="697.5" y="426.375" width="42.0" height="8.425" fill="#00afff"/><rect x="697.5" y="418.000" width="42.0" height="8.425" fill="#00bfff"/><rect x="697.5" y="409.625" width="42.0" height="8.425" fill="#00cfff"/><rect x="697.5" y="401.250" width="42.0" height="8.425" fill="#00dfff"/><rect x="697.5" y="392.875" width="42.0" height="8.425" fill="#00efff"/><rect x="697.5" y="384.500" width="42.0" height="8.425" fill="#00ffff"/><rect x="697.5" y="376.125" width="42.0" height="8.425" fill="#10ffef"/><rect x="697.5" y="367.750" width="42.0" height="8.425" fill="#20ffdf"/><rect x="697.5" y="359.375" width="42.0" height="8.425" fill="#30ffcf"/><rect x="697.5" y="351.000" width="42.0" height="8.425" fill="#40ffbf"/><rect x="697.5" y="342.625" width="42.0" height="8.425" fill="#50ffaf"/><rect x="697.5" y="334.250" width="42.0" height="8.425" fill="#60ff9f"/><rect x="697.5" y="325.875" width="42.0" height="8.425" fill="#70ff8f"/><rect x="697.5" y="317.500" width="42.0" height="8.425" fill="#80ff80"/><rect x="697.5" y="309.125" width="42.0" height="8.425" fill="#8fff70"/><rect x="697.5" y="300.750" width="42.0" height="8.425" fill="#9fff60"/><rect x="697.5" y="292.375" width="42.0" height="8.425" fill="#afff50"/><rect x="697.5" y="284.000" width="42.0" height="8.425" fill="#bfff40"/><rect x="697.5" y="275.625" width="42.0" height="8.425" fill="#cfff30"/><rect x="697.5" y="267.250" width="42.0" height="8.425" fill="#dfff20"/><rect x="697.5" y="258.875" width="42.0" height="8.425" fill="#efff10"/><rect x="697.5" y="250.500" width="42.0" height="8.425" fill="#ffff00"/><rect x="697.5" y="242.125" width="42.0" height="8.425" fill="#ffef00"/><rect x="697.5" y="233.750" width="42.0" height="8.425" fill="#ffdf00"/><rect x="697.5" y="225.375" width="42.0" height="8.425" fill="#ffcf00"/><rect x="697.5" y="217.000" width="42.0" height="8.425" fill="#ffbf00"/><rect x="697.5" y="208.625" width="42.0" height="8.425" fill="#ffaf00"/><rect x="697.5" y="200.250" width="42.0" height="8.425" fill="#ff9f00"/><rect x="697.5" y="191.875" width="42.0" height="8.425" fill="#ff8f00"/><rect x="697.5" y="183.500" width="42.0" height="8.425" fill="#ff8000"/><rect x="697.5" y="175.125" width="42.0" height="8.425" fill="#ff7000"/><rect x="697.5" y="166.750" width="42.0" height="8.425" fill="#ff6000"/><rect x="697.5" y="158.375" width="42.0" height="8.425" fill="#ff5000"/><rect x="697.5" y="150.000" width="42.0" height="8.425" fill="#ff4000"/><rect x="697.5" y="141.625" width="42.0" height="8.425" fill="#ff3000"/><rect x="697.5" y="133.250" width="42.0" height="8.425" fill="#ff2000"/><rect x="697.5" y="124.875" width="42.0" height="8.425" fill="#ff1000"/><rect x="697.5" y="116.500" width="42.0" height="8.425" fill="#ff0000"/><rect x="697.5" y="108.125" width="42.0" height="8.425" fill="#ef0000"/><rect x="697.5" y="99.750" width="42.0" height="8.425" fill="#df0000"/><rect x="697.5" y="91.375" width="42.0" height="8.425" fill="#cf0000"/><rect x="697.5" y="83.000" width="42.0" height="8.425" fill="#bf0000"/><rect x="697.5" y="74.625" width="42.0" height="8.425" fill="#af0000"/><rect x="697.5" y="66.250" width="42.0" height="8.425" fill="#9f0000"/><rect x="697.5" y="57.875" width="42.0" height="8.425" fill="#8f0000"/><rect x="697.5" y="49.500" width="42.0" height="8.425" fill="#800000"/></g><path d="M739.5 531.5h-5M739.5 478.5h-5M739.5 424.5h-5M739.5 371.5h-5M739.5 317.5h-5M739.5 263.5h-5M739.5 210.5h-5M739.5 156.5h-5M739.5 103.5h-5" stroke="#262626" stroke-width="1" fill="none"/><rect x="697.5" y="49.5" width="42.0" height="536.0" fill="none" stroke="#262626" stroke-width="1"/><text x="747.5" y="592.1" class="ct">0</text><text x="747.5" y="538.5" class="ct">10</text><text x="747.5" y="484.9" class="ct">20</text><text x="747.5" y="431.3" class="ct">30</text><text x="747.5" y="377.7" class="ct">40</text><text x="747.5" y="324.1" class="ct">50</text><text x="747.5" y="270.5" class="ct">60</text><text x="747.5" y="216.9" class="ct">70</text><text x="747.5" y="163.3" class="ct">80</text><text x="747.5" y="109.7" class="ct">90</text><text x="747.5" y="56.1" class="ct">100</text><text x="389.6" y="39.9" text-anchor="middle" class="ttl">14-Oct-2024; 00:00 UT</text><text x="287.4" y="645.8" class="lab" style="letter-spacing:0.3px">Geographic Lon.</text><text x="464.2" y="645.8" class="lab">(</text><circle cx="477.5" cy="633.7" r="3.2" fill="none" stroke="#262626" stroke-width="1.2"/><text x="483.6" y="645.8" class="lab">)</text><g transform="translate(70.6,414) rotate(-90)"><text x="0.5" y="0" class="lab" style="letter-spacing:0.17px">Geographic Lat.</text><text x="169.2" y="0" class="lab">(</text><circle cx="181.5" cy="-12.1" r="3.2" fill="none" stroke="#262626" stroke-width="1.2"/><text x="188" y="0" class="lab">)</text></g><g transform="translate(804.6,315.5) rotate(-90)"><text x="0" y="0" text-anchor="middle" class="clab">Total Electron Content (TECU)</text></g>
</svg>
</body></html>
